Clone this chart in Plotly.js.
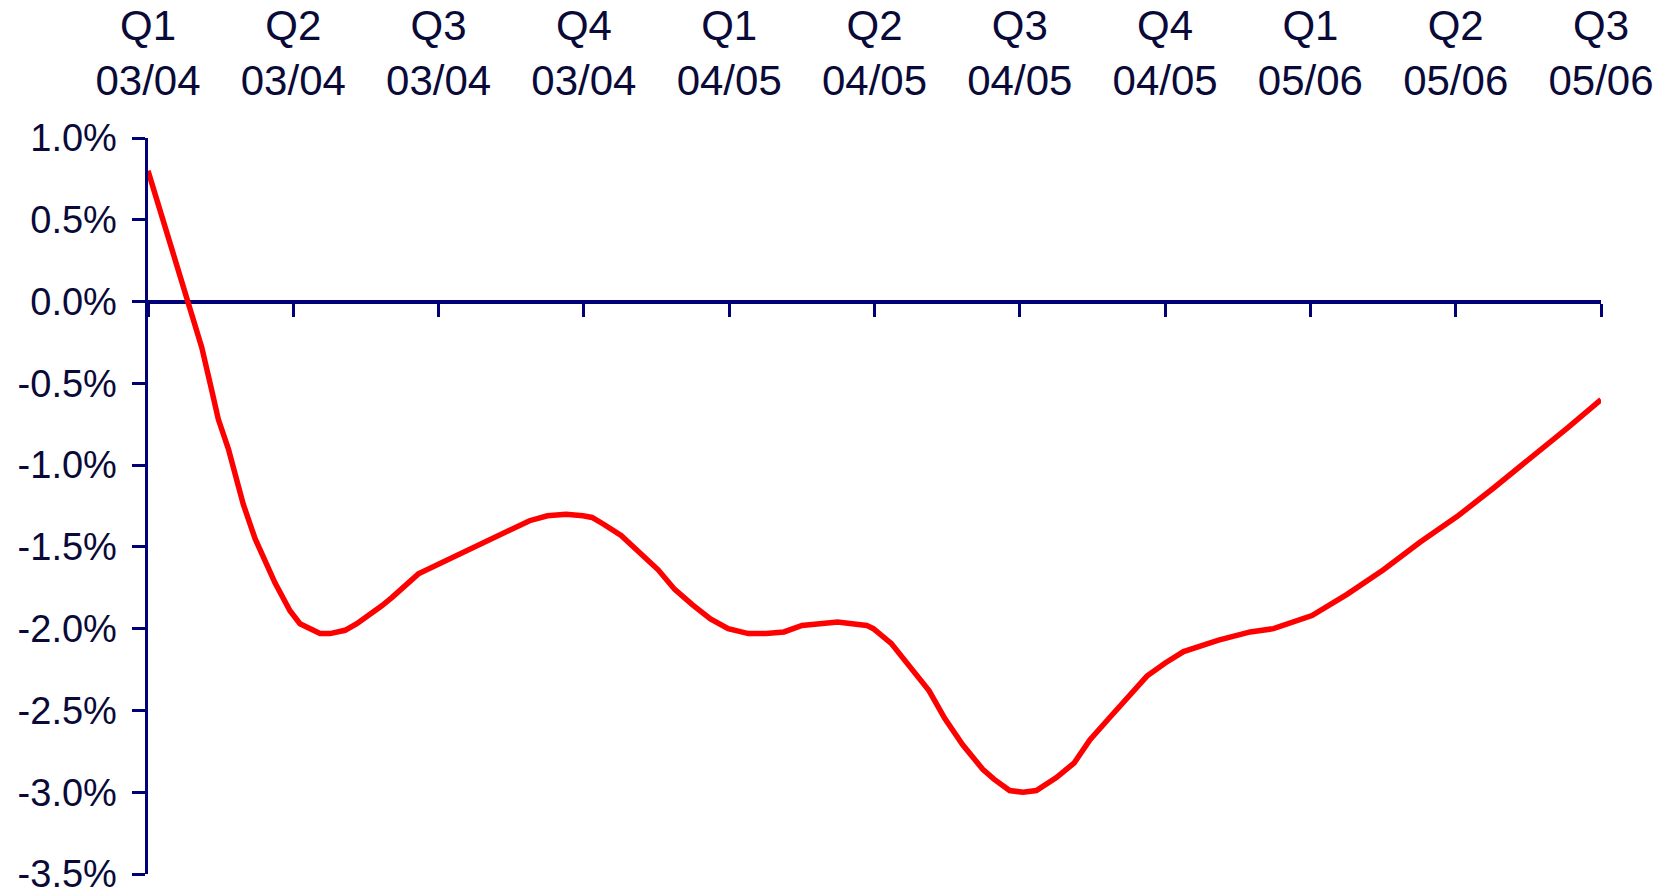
<!DOCTYPE html>
<html>
<head>
<meta charset="utf-8">
<script src="https://cdn.plot.ly/plotly-3.0.1.min.js"></script>
<style>
  html, body { margin: 0; padding: 0; background: #ffffff; }
  #chart { width: 1668px; height: 893px; }
</style>
</head>
<body>
<div id="chart"></div>
<script>
// Quarter labels along the top axis
const quarterLabels = [
  'Q1<br>03/04', 'Q2<br>03/04', 'Q3<br>03/04', 'Q4<br>03/04',
  'Q1<br>04/05', 'Q2<br>04/05', 'Q3<br>04/05', 'Q4<br>04/05',
  'Q1<br>05/06', 'Q2<br>05/06', 'Q3<br>05/06'
];
const quarterTicks = [0, 1, 2, 3, 4, 5, 6, 7, 8, 9, 10];

// Y-axis ticks (percent)
const pctTicks = [1.0, 0.5, 0.0, -0.5, -1.0, -1.5, -2.0, -2.5, -3.0, -3.5];
const pctLabels = ['1.0%', '0.5%', '0.0%', '-0.5%', '-1.0%', '-1.5%', '-2.0%', '-2.5%', '-3.0%', '-3.5%'];

// Time elapsed since Q1 03/04, in quarters
const quarterPos = [
  0.000, 0.117, 0.266, 0.370, 0.438, 0.484, 0.553, 0.611, 0.656, 0.737,
  0.817, 0.874, 0.977, 1.046, 1.184, 1.253, 1.356, 1.437, 1.609, 1.678,
  1.861, 1.964, 2.136, 2.226, 2.488, 2.626, 2.749, 2.878, 2.994, 3.056,
  3.133, 3.256, 3.511, 3.625, 3.748, 3.871, 3.993, 4.132, 4.255, 4.377,
  4.501, 4.746, 4.946, 4.992, 5.115, 5.254, 5.376, 5.484, 5.607, 5.745,
  5.822, 5.930, 6.022, 6.114, 6.252, 6.375, 6.482, 6.622, 6.760, 6.875,
  7.001, 7.127, 7.368, 7.586, 7.746, 7.884, 8.011, 8.252, 8.503, 8.756,
  9.009, 9.261, 9.514, 9.766, 10.000
];

// Gap (%) at each point
const gapPct = [
   0.80,  0.45,  0.03, -0.28, -0.54, -0.72, -0.90, -1.11, -1.24, -1.45,
  -1.60, -1.72, -1.89, -1.97, -2.03, -2.03, -2.01, -1.97, -1.86, -1.81,
  -1.665, -1.62, -1.55, -1.51, -1.40, -1.34, -1.31, -1.30, -1.31, -1.32,
  -1.36, -1.43, -1.64, -1.76, -1.855, -1.94, -2.00, -2.03, -2.03, -2.02,
  -1.98, -1.96, -1.98, -2.00, -2.09, -2.24, -2.38, -2.55, -2.71, -2.86,
  -2.92, -2.99, -3.00, -2.99, -2.91, -2.82, -2.68, -2.54, -2.405, -2.29,
  -2.21, -2.14, -2.07, -2.02, -2.00, -1.96, -1.92, -1.79, -1.64, -1.47,
  -1.315, -1.14, -0.96, -0.775, -0.60
];

const navy = '#000077';
const textColor = '#0a0a38';
const font = 'Liberation Sans, Arial, sans-serif';

const traces = [
  {
    x: quarterPos,
    y: gapPct,
    xaxis: 'x',
    yaxis: 'y',
    type: 'scatter',
    mode: 'lines',
    line: { color: '#ff0000', width: 5.5 },
    hoverinfo: 'skip',
    showlegend: false,
    cliponaxis: false
  },
  // empty series that registers the top label axis
  {
    x: [],
    y: [],
    xaxis: 'x2',
    yaxis: 'y',
    type: 'scatter',
    mode: 'lines',
    hoverinfo: 'skip',
    showlegend: false
  }
];

const layout = {
  width: 1668,
  height: 893,
  margin: { l: 148, r: 67, t: 138, b: 19, pad: 0 },
  paper_bgcolor: '#ffffff',
  plot_bgcolor: '#ffffff',
  showlegend: false,
  font: { family: font, color: textColor },
  // Zero line with quarter ticks
  xaxis: {
    range: [0, 10],
    anchor: 'free',
    position: 3.5 / 4.5,
    side: 'bottom',
    showline: true,
    linecolor: navy,
    linewidth: 4,
    ticks: 'outside',
    ticklen: 13,
    tickwidth: 3,
    tickcolor: navy,
    tickvals: quarterTicks,
    showticklabels: false,
    showgrid: false,
    zeroline: false,
    layer: 'below traces',
    fixedrange: true
  },
  // Quarter labels along the top
  xaxis2: {
    range: [0, 10],
    overlaying: 'x',
    anchor: 'y',
    side: 'top',
    showline: false,
    ticks: '',
    tickvals: quarterTicks,
    ticktext: quarterLabels,
    tickfont: { family: font, size: 42, color: textColor },
    ticklabelstandoff: 34,
    ticklabeloverflow: 'allow',
    showgrid: false,
    zeroline: false,
    fixedrange: true
  },
  yaxis: {
    range: [-3.5, 1.0],
    showline: true,
    linecolor: navy,
    linewidth: 3.5,
    ticks: 'outside',
    ticklen: 13,
    tickwidth: 3,
    tickcolor: navy,
    tickvals: pctTicks,
    ticktext: pctLabels,
    tickfont: { family: font, size: 38, color: textColor },
    ticklabelstandoff: 7,
    ticklabeloverflow: 'allow',
    showgrid: false,
    zeroline: false,
    layer: 'below traces',
    fixedrange: true
  }
};

Plotly.newPlot('chart', traces, layout, { displayModeBar: false, staticPlot: true });
</script>
</body>
</html>
